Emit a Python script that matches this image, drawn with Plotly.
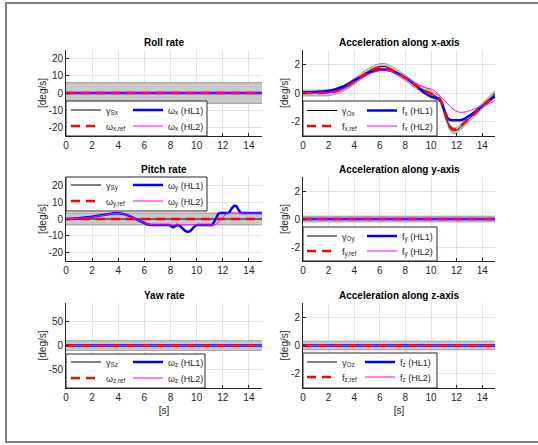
import plotly.graph_objects as go

# ------------------------------------------------------------------ data
# time axis (s)
x_ticks = [0, 2, 4, 6, 8, 10, 12, 14]

# Roll rate (deg/s)
roll_t = [0, 15]
roll_gamma = [0, 0]
roll_ref = [0, 0]
roll_hl1 = [0, 0]
roll_hl2 = [0, 0]
roll_tol = 6.0

# Pitch rate (deg/s)
pitch_t = [0, 15]
pitch_gamma = [0, 0]
pitch_ref = [0, 0]
pitch_tol = 3.5
pitch_hl1_t = [0, 1, 2, 2.5, 3, 3.4, 3.8, 4.2, 4.6, 5.0, 5.4, 5.8, 6.2, 6.5, 7.9, 8.05, 8.2,
               8.35, 8.5, 8.7, 8.9, 9.1, 9.3, 9.5, 9.7, 9.9, 10.05, 11.2, 11.35, 11.5, 11.65,
               11.8, 12.4, 12.55, 12.7, 12.9, 13.05, 13.2, 13.35, 13.45, 15]
pitch_hl1 = [0, 0.4, 1.3, 2.0, 2.8, 3.3, 3.5, 3.3, 2.6, 1.3, -0.3, -1.9, -3.1, -3.5, -3.5, -4.2, -4.9,
             -4.3, -3.5, -4.0, -5.6, -7.0, -7.7, -7.2, -5.6, -4.0, -3.5, -3.5, -1.5, 1.0, 3.0,
             3.5, 3.5, 4.5, 6.5, 8.0, 7.6, 5.5, 3.8, 3.5, 3.5]
pitch_hl2_t = [0, 1, 2, 3, 3.8, 4.2, 4.6, 5.0, 5.4, 5.8, 6.2, 6.6, 11.4, 11.6, 11.8, 12.0, 12.15, 12.3, 15]
pitch_hl2 = [0, 0.3, 1.2, 2.7, 3.5, 3.3, 2.6, 1.4, -0.1, -1.7, -3.0, -3.5, -3.5, -2.5, -0.8, 1.2, 2.8, 3.5, 3.5]

# Yaw rate (deg/s)
yaw_t = [0, 15]
yaw_gamma = [0, 0]
yaw_ref = [0, 0]
yaw_hl1 = [0, 0]
yaw_hl2 = [0, 0]
yaw_tol = 10.0

# Acceleration along x-axis
accx_t = [0, 1, 2, 2.5, 3, 3.5, 4, 4.5, 5, 5.5, 6, 6.5, 7, 7.5, 8, 8.5, 9, 9.5, 10, 10.5,
          10.7, 11.0, 11.3, 11.5, 11.75, 12.0, 12.4, 12.8, 13.4, 14.2, 14.6, 15]
accx_gamma = [0, 0, 0.02, 0.1, 0.25, 0.5, 0.8, 1.15, 1.45, 1.7, 1.85, 1.83, 1.62, 1.35, 1.05, 0.72,
              0.42, 0.17, -0.05, -0.3, -0.42, -1.2, -2.05, -2.45, -2.63, -2.6, -2.3, -1.95, -1.45,
              -0.74, -0.4, -0.02]
accx_ref = [0, 0, 0.02, 0.1, 0.25, 0.5, 0.8, 1.12, 1.42, 1.64, 1.76, 1.75, 1.58, 1.33, 1.04, 0.72,
            0.42, 0.17, -0.05, -0.3, -0.42, -1.15, -1.98, -2.38, -2.55, -2.52, -2.25, -1.92, -1.45,
            -0.76, -0.45, -0.1]
accx_hl1_t = [0, 1, 2, 2.5, 3, 3.5, 4, 4.5, 5, 5.5, 6, 6.5, 7, 7.5, 8, 8.5, 9, 9.5, 10, 10.5,
              10.8, 11.0, 11.3, 11.5, 12.4, 12.8, 13.4, 13.8, 14.4, 15]
accx_hl1 = [0.05, 0.07, 0.15, 0.25, 0.4, 0.62, 0.88, 1.12, 1.35, 1.52, 1.63, 1.63, 1.52, 1.32, 1.06,
            0.75, 0.38, 0.0, -0.25, -0.4, -0.6, -1.1, -1.75, -1.88, -1.88, -1.7, -1.35, -1.05,
            -0.65, -0.22]
accx_hl2_t = [0, 1, 2, 2.5, 3, 3.5, 4, 4.5, 5, 5.5, 6, 6.5, 7, 7.5, 8, 8.5, 9, 9.5, 10.2, 11.0,
              11.5, 12.0, 12.3, 12.8, 13.4, 13.8, 14.4, 15]
accx_hl2 = [0, 0, 0.02, 0.08, 0.2, 0.42, 0.7, 0.98, 1.25, 1.45, 1.57, 1.58, 1.47, 1.27, 1.02, 0.78,
            0.57, 0.4, 0.2, -0.45, -0.95, -1.28, -1.35, -1.3, -1.1, -0.98, -0.8, -0.52]
accx_tol = 0.2

# Acceleration along y-axis
accy_t = [0, 15]
accy_gamma = [0, 0]
accy_ref = [0, 0]
accy_hl1 = [0, 0]
accy_hl2 = [0, 0]
accy_tol = 0.2

# Acceleration along z-axis
accz_t = [0, 15]
accz_gamma = [0, 0]
accz_ref = [0, 0]
accz_hl1 = [0, 0]
accz_hl2 = [0, 0]
accz_tol = 0.3

rate_ticks = [-20, -10, 0, 10, 20]
yaw_ticks = [-50, 0, 50]
acc_ticks = [-2, 0, 2]

# ------------------------------------------------------------------ layout helpers
W, H = 538, 445
PL, PR, PT, PB = 66, 495, 50, 388  # plot-area pixel box


def px_x(px):
    return (px - PL) / (PR - PL)


def px_y(py):
    return (PB - py) / (PB - PT)


COLS = [(66, 262), (303, 495)]
ROWS = [(50, 136), (177, 261), (303, 388)]

FONT = "Liberation Sans, Arial, Helvetica, sans-serif"
TXT = "#262626"

panels = [
    dict(title="Roll rate", row=0, col=0, yr=[-25, 25], yt=rate_ticks,
         g=(roll_t, roll_gamma), r=(roll_t, roll_ref), h1=(roll_t, roll_hl1), h2=(roll_t, roll_hl2),
         tol=roll_tol, sym="ω", ax="x", gam="γ<sub>Sx</sub>",
         rows_px=(110, 126), cols_px=(66, 128), box=(66, 207, 101, 136)),
    dict(title="Acceleration along x-axis", row=0, col=1, yr=[-3, 3], yt=acc_ticks,
         g=(accx_t, accx_gamma), r=(accx_t, accx_ref), h1=(accx_hl1_t, accx_hl1), h2=(accx_hl2_t, accx_hl2),
         tol=accx_tol, sym="f", ax="x", gam="γ<sub>Ox</sub>",
         rows_px=(110.5, 126), cols_px=(302, 362), box=(303, 437, 101, 136)),
    dict(title="Pitch rate", row=1, col=0, yr=[-25, 25], yt=rate_ticks,
         g=(pitch_t, pitch_gamma), r=(pitch_t, pitch_ref), h1=(pitch_hl1_t, pitch_hl1), h2=(pitch_hl2_t, pitch_hl2),
         tol=pitch_tol, sym="ω", ax="y", gam="γ<sub>Sy</sub>",
         rows_px=(185, 201), cols_px=(66, 128), box=(66, 207, 177, 211)),
    dict(title="Acceleration along y-axis", row=1, col=1, yr=[-3, 3], yt=acc_ticks,
         g=(accy_t, accy_gamma), r=(accy_t, accy_ref), h1=(accy_t, accy_hl1), h2=(accy_t, accy_hl2),
         tol=accy_tol, sym="f", ax="y", gam="γ<sub>Oy</sub>",
         rows_px=(236, 251), cols_px=(302, 362), box=(303, 437, 227, 261)),
    dict(title="Yaw rate", row=2, col=0, yr=[-90, 90], yt=yaw_ticks,
         g=(yaw_t, yaw_gamma), r=(yaw_t, yaw_ref), h1=(yaw_t, yaw_hl1), h2=(yaw_t, yaw_hl2),
         tol=yaw_tol, sym="ω", ax="z", gam="γ<sub>Sz</sub>",
         rows_px=(362, 378), cols_px=(66, 128), box=(66, 205, 354, 388)),
    dict(title="Acceleration along z-axis", row=2, col=1, yr=[-3, 3], yt=acc_ticks,
         g=(accz_t, accz_gamma), r=(accz_t, accz_ref), h1=(accz_t, accz_hl1), h2=(accz_t, accz_hl2),
         tol=accz_tol, sym="f", ax="z", gam="γ<sub>Oz</sub>",
         rows_px=(362, 377), cols_px=(302, 360), box=(303, 437, 353, 388)),
]

fig = go.Figure()
layout = dict(
    width=W, height=H,
    margin=dict(l=PL, r=W - PR, t=PT, b=H - PB, autoexpand=False),
    paper_bgcolor="white", plot_bgcolor="white",
    font=dict(family=FONT, size=10, color=TXT),
    annotations=[], shapes=[],
)

leg_count = 0


def new_legend(xpx, ypx):
    global leg_count
    leg_count += 1
    name = "legend" if leg_count == 1 else f"legend{leg_count}"
    layout[name] = dict(
        x=max(px_x(xpx), 0.0), y=px_y(ypx), xanchor="left", yanchor="middle",
        bgcolor="rgba(0,0,0,0)", borderwidth=0,
        font=dict(family=FONT, size=9, color=TXT), itemwidth=30,
        tracegroupgap=0,
    )
    return name


for i, p in enumerate(panels):
    n = i + 1
    xa = "x" if n == 1 else f"x{n}"
    ya = "y" if n == 1 else f"y{n}"
    xkey = "xaxis" if n == 1 else f"xaxis{n}"
    ykey = "yaxis" if n == 1 else f"yaxis{n}"
    c0, c1 = COLS[p["col"]]
    r0, r1 = ROWS[p["row"]]
    spline = dict(shape="spline", smoothing=0.6) if p["ax"] == "x" and p["sym"] == "f" else dict(shape="linear")

    gt, gv = p["g"]
    tol = p["tol"]
    lower = [v - tol for v in gv]
    upper = [v + tol for v in gv]
    # tolerance band
    fig.add_trace(go.Scatter(x=gt, y=lower, xaxis=xa, yaxis=ya, mode="lines",
                             line=dict(color="#9a9a9a", width=1, **spline),
                             showlegend=False, hoverinfo="skip"))
    fig.add_trace(go.Scatter(x=gt, y=upper, xaxis=xa, yaxis=ya, mode="lines",
                             line=dict(color="#9a9a9a", width=1, **spline),
                             fill="tonexty", fillcolor="#c9c9c9",
                             showlegend=False, hoverinfo="skip"))

    rp1, rp2 = p["rows_px"]
    cp1, cp2 = p["cols_px"]
    s, a = p["sym"], p["ax"]
    # gamma (black)
    fig.add_trace(go.Scatter(x=gt, y=gv, xaxis=xa, yaxis=ya, mode="lines", name=p["gam"],
                             line=dict(color="black", width=1, **spline),
                             legend=new_legend(cp1, rp1)))
    # HL1 (blue)
    ht, hv = p["h1"]
    fig.add_trace(go.Scatter(x=ht, y=hv, xaxis=xa, yaxis=ya, mode="lines",
                             name=f"{s}<sub>{a}</sub> (HL1)",
                             line=dict(color="#0000ff", width=2.5, **spline),
                             legend=new_legend(cp2, rp1)))
    # reference (red dashed)
    rt, rv = p["r"]
    fig.add_trace(go.Scatter(x=rt, y=rv, xaxis=xa, yaxis=ya, mode="lines",
                             name=f"{s}<sub>{a},ref</sub>",
                             line=dict(color="#ff0000", width=2.5, dash="9px,6px", **spline),
                             legend=new_legend(cp1, rp2)))
    # HL2 (magenta)
    ht, hv = p["h2"]
    fig.add_trace(go.Scatter(x=ht, y=hv, xaxis=xa, yaxis=ya, mode="lines",
                             name=f"{s}<sub>{a}</sub> (HL2)",
                             line=dict(color="#ff00ff", width=1, **spline),
                             legend=new_legend(cp2, rp2)))

    axis_common = dict(showline=True, linecolor=TXT, linewidth=1, mirror=False,
                       ticks="inside", ticklen=3, tickcolor=TXT, showgrid=True,
                       gridcolor="#e3e3e3", gridwidth=1, zeroline=False, automargin=False,
                       tickfont=dict(family=FONT, size=10, color=TXT))
    layout[xkey] = dict(axis_common, domain=[px_x(c0), px_x(c1)], anchor=ya, range=[0, 15],
                        tickvals=x_ticks, ticktext=[str(v) for v in x_ticks])
    if p["row"] == 2:
        layout[xkey]["title"] = dict(text="[s]", font=dict(family=FONT, size=10, color=TXT), standoff=4)
    layout[ykey] = dict(axis_common, domain=[px_y(r1), px_y(r0)], anchor=xa, range=p["yr"],
                        tickvals=p["yt"], ticktext=[str(v) for v in p["yt"]],
                        title=dict(text="[deg/s]", font=dict(family=FONT, size=10, color=TXT), standoff=0))

    # subplot title
    layout["annotations"].append(dict(
        text=f"<b>{p['title']}</b>", x=0.5, y=1, xref=f"{xa} domain", yref=f"{ya} domain",
        xanchor="center", yanchor="middle", yshift=8, showarrow=False,
        font=dict(family=FONT, size=10, color="black")))

    # legend box (drawn over the data, legends sit on top of it)
    bx0, bx1, by0, by1 = p["box"]
    layout["shapes"].append(dict(
        type="rect", xref="paper", yref="paper",
        x0=px_x(bx0), x1=px_x(bx1), y0=px_y(by1), y1=px_y(by0),
        fillcolor="white", line=dict(color=TXT, width=1), layer="above"))

# outer figure frame
layout["shapes"].append(dict(
    type="rect", xref="paper", yref="paper",
    x0=px_x(6), x1=px_x(548), y0=px_y(442), y1=px_y(3),
    fillcolor="rgba(0,0,0,0)", line=dict(color="#7f7f7f", width=2), layer="above"))

fig.update_layout(**layout)
fig.write_html("out.html", config={"displayModeBar": False},
               post_script="document.body.style.margin='0px';document.body.style.padding='0px';")
